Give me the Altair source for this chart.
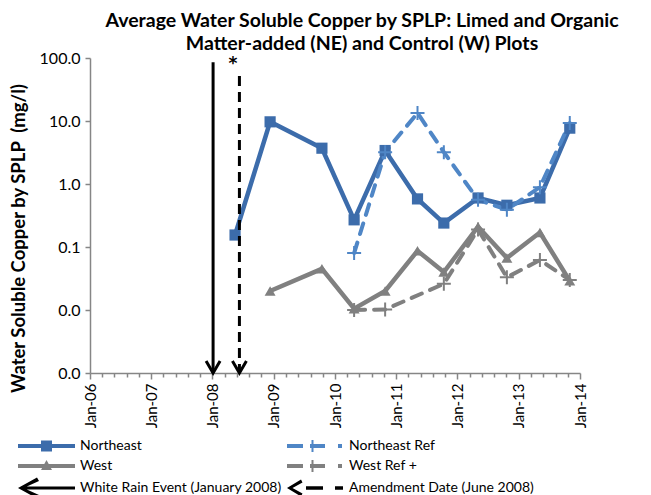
import altair as alt
import pandas as pd

# ---------------- data ----------------
dates = ["2008-05-15", "2008-12-10", "2009-10-15", "2010-04-25", "2010-10-27",
         "2011-05-08", "2011-10-12", "2012-05-03", "2012-10-22", "2013-05-07", "2013-11-01"]
ne_values = [0.155, 9.7, 3.7, 0.27, 3.4, 0.58, 0.24, 0.60, 0.46, 0.60, 7.7]

west_dates = dates[1:]
west_values = [0.020, 0.045, 0.0105, 0.020, 0.087, 0.040, 0.21, 0.067, 0.17, 0.029]

ne_ref_dates = dates[3:]
ne_ref_values = [0.08, 3.2, 13.4, 3.2, 0.56, 0.39, 0.89, 9.3]

west_ref_dates = [dates[3], dates[4], dates[6], dates[7], dates[8], dates[9], dates[10]]
west_ref_values = [0.0100, 0.0102, 0.026, 0.19, 0.033, 0.062, 0.030]

event_names = ["White Rain Event (January 2008)", "Amendment Date (June 2008)"]
event_dates = ["2008-01-05", "2008-06-10"]
event_tops = [86, 52]

star_date = ["2008-05-03"]
star_value = [80]

years = list(range(2006, 2015))
y_ticks = [0.001, 0.01, 0.1, 1, 10, 100]

legend_names = ["Northeast", "Northeast Ref", "West", "West Ref +",
                "White Rain Event (January 2008)", "Amendment Date (June 2008)"]

title_lines = ["Average Water Soluble Copper by SPLP: Limed and Organic",
               "Matter-added (NE) and Control (W) Plots"]

# ---------------- style ----------------
NE = "#3C6CAB"
NE_REF = "#4F86C6"
GRAY = "#808080"
AX = "#868686"
FONT = "Lato"

plus_path = "M-1,0H1M0,-1V1"
chevron_path = "M-1,-1.7L0,0L1,-1.7"

# legend glyphs drawn in pixels (left edge x=0, centre y=0), converted to symbol units
LEG_UNIT = 9.0  # half of sqrt(symbolSize)

def rect(x0, y0, x1, y1):
    return [(x0, y0), (x1, y0), (x1, y1), (x0, y1)]

def to_path(polys):
    parts = []
    for poly in polys:
        pts = [f"{(x - LEG_UNIT) / LEG_UNIT:.3f},{y / LEG_UNIT:.3f}" for x, y in poly]
        parts.append("M" + "L".join(pts) + "Z")
    return " ".join(parts)

leg_shapes = [
    to_path([rect(0, -2, 57, 2), rect(23, -5.5, 34, 5.5)]),
    to_path([rect(0, -2, 16, 2), rect(23, -2, 38, 2), rect(24.5, -6, 26.5, 6), rect(51, -2, 55, 2)]),
    to_path([rect(0, -2, 57, 2), [(28.5, -6), (34, 4), (23, 4)]]),
    to_path([rect(0, -2, 16, 2), rect(23, -2, 38, 2), rect(24.5, -6, 26.5, 6), rect(51, -2, 55, 2)]),
    to_path([[(0, 0), (19, -10.5), (21, -7), (5.5, 0), (21, 7), (19, 10.5)], rect(3, -1.6, 57, 1.6)]),
    to_path([[(0, 0), (14, -8.5), (15.5, -5.5), (5.5, 0), (15.5, 5.5), (14, 8.5)],
             rect(19, -1.7, 36, 1.7), rect(48, -1.7, 56, 1.7)]),
]
leg_colors = [NE, NE_REF, GRAY, GRAY, "black", "black"]

# ---------------- frames ----------------
ne_df = pd.DataFrame({"date": dates, "value": ne_values})
w_df = pd.DataFrame({"date": west_dates, "value": west_values})
ner_df = pd.DataFrame({"date": ne_ref_dates, "value": ne_ref_values})
wr_df = pd.DataFrame({"date": west_ref_dates, "value": west_ref_values})
ev_df = pd.DataFrame({"event": event_names, "date": event_dates, "top": event_tops, "bottom": [0.001, 0.001]})
star_df = pd.DataFrame({"date": star_date, "value": star_value, "t": ["*"]})
leg_df = pd.DataFrame({"series": legend_names})

def dt(ts):
    return alt.DateTime(year=ts.year, month=ts.month, date=ts.day, utc=True)

major_vals = [alt.DateTime(year=y, month=1, date=1, utc=True) for y in years]
minor_vals = []
for y in years[:-1]:
    base = pd.Timestamp(year=y, month=1, day=1)
    for k in range(1, 5):
        minor_vals.append(dt(base + pd.Timedelta(days=73 * k)))

x_scale = alt.Scale(type="utc", domain=[major_vals[0], major_vals[-1]])
y_scale = alt.Scale(type="log", domain=[0.001, 100])

x_axis = alt.Axis(values=major_vals, format="%b-%y", labelAngle=270, orient="bottom",
                  tickSize=6, tickWidth=1.5, tickColor=AX, domainColor=AX, domainWidth=1.5,
                  labelFont=FONT, labelFontSize=15, labelColor="black", labelPadding=4,
                  title=None, grid=False, labelOverlap=False)
minor_axis = alt.Axis(values=minor_vals, labels=False, domain=False, orient="bottom",
                      tickSize=4, tickWidth=1.5, tickColor=AX, title=None, grid=False)
y_axis = alt.Axis(values=y_ticks, format=".1f", orient="left", tickSize=5, tickWidth=1.5,
                  tickColor=AX, domainColor=AX, domainWidth=1.5, labelFont=FONT,
                  labelFontSize=16, labelColor="black", labelPadding=5, grid=False,
                  labelOverlap=False,
                  title="Water Soluble Copper by SPLP\u00a0 (mg/l)", titleFont=FONT,
                  titleFontSize=18.5, titleFontWeight="bold", titleColor="black",
                  titleAngle=270, titleX=-72, titleY=180, titleAlign="center",
                  titleBaseline="middle")

def X(axis=None):
    return alt.X("date:T", scale=x_scale, axis=axis)

def Y(field="value", axis=None):
    return alt.Y(f"{field}:Q", scale=y_scale, axis=axis)

ne_line = alt.Chart(ne_df).mark_line(color=NE, strokeWidth=4.5).encode(x=X(x_axis), y=Y(axis=y_axis))
ne_pts = alt.Chart(ne_df).mark_point(shape="square", filled=True, size=125, color=NE, opacity=1).encode(x=X(), y=Y())

w_line = alt.Chart(w_df).mark_line(color=GRAY, strokeWidth=4.5).encode(x=X(), y=Y())
w_pts = alt.Chart(w_df).mark_point(shape="triangle-up", filled=True, size=120, color=GRAY, opacity=1).encode(x=X(), y=Y())

ner_line = alt.Chart(ner_df).mark_line(color=NE_REF, strokeWidth=4, strokeDash=[11, 9], strokeCap="round").encode(x=X(), y=Y())
ner_pts = alt.Chart(ner_df).mark_point(shape=plus_path, filled=False, size=196, strokeWidth=2, color=NE_REF, opacity=1).encode(x=X(), y=Y())

wr_line = alt.Chart(wr_df).mark_line(color=GRAY, strokeWidth=4, strokeDash=[11, 9], strokeCap="round").encode(x=X(), y=Y())
wr_pts = alt.Chart(wr_df).mark_point(shape=plus_path, filled=False, size=196, strokeWidth=2, color=GRAY, opacity=1).encode(x=X(), y=Y())

ev_rules = alt.Chart(ev_df).mark_rule(color="black", strokeWidth=3).encode(
    x=X(minor_axis), y=Y("top"), y2="bottom:Q",
    strokeDash=alt.StrokeDash("event:N", scale=alt.Scale(domain=event_names, range=[[1, 0], [10, 6]]), legend=None))
ev_heads = alt.Chart(ev_df).mark_point(shape=chevron_path, filled=False, size=196, strokeWidth=3, color="black", opacity=1).encode(
    x=X(), y=Y("bottom"))

star = alt.Chart(star_df).mark_text(font="DejaVu Sans", fontSize=17, fontWeight="bold", color="black", baseline="middle").encode(
    x=X(), y=Y(), text="t:N")

legend_layer = alt.Chart(leg_df).transform_filter("false").mark_point(filled=True, opacity=1).encode(
    color=alt.Color("series:N", scale=alt.Scale(domain=legend_names, range=leg_colors),
                    legend=alt.Legend(title=None, orient="none", legendX=-72, legendY=379, columns=2,
                                      direction="horizontal",
                                      symbolSize=(2 * LEG_UNIT) ** 2, symbolStrokeWidth=0, labelFont=FONT,
                                      labelFontSize=14, labelColor="black", labelOffset=44,
                                      rowPadding=4, columnPadding=5, labelLimit=400)),
    shape=alt.Shape("series:N", scale=alt.Scale(domain=legend_names, range=leg_shapes)))

chart = alt.layer(
    ne_line, w_line, ner_line, wr_line, ne_pts, w_pts, ner_pts, wr_pts,
    ev_rules, ev_heads, star, legend_layer
).resolve_axis(x="independent", y="independent").properties(
    width=490, height=315,
    padding={"left": 82, "top": 50, "right": 63, "bottom": 122},
    autosize=alt.AutoSizeParams(type="none"),
    title=alt.TitleParams(text=title_lines, font=FONT, fontSize=19.5, fontWeight="bold",
                          color="black", anchor="middle", lineHeight=23, offset=8, dx=27,
                          dy=12, frame="group"),
).configure_view(stroke=None)

chart.save("out.html", embed_options={"renderer": "svg", "actions": False})
